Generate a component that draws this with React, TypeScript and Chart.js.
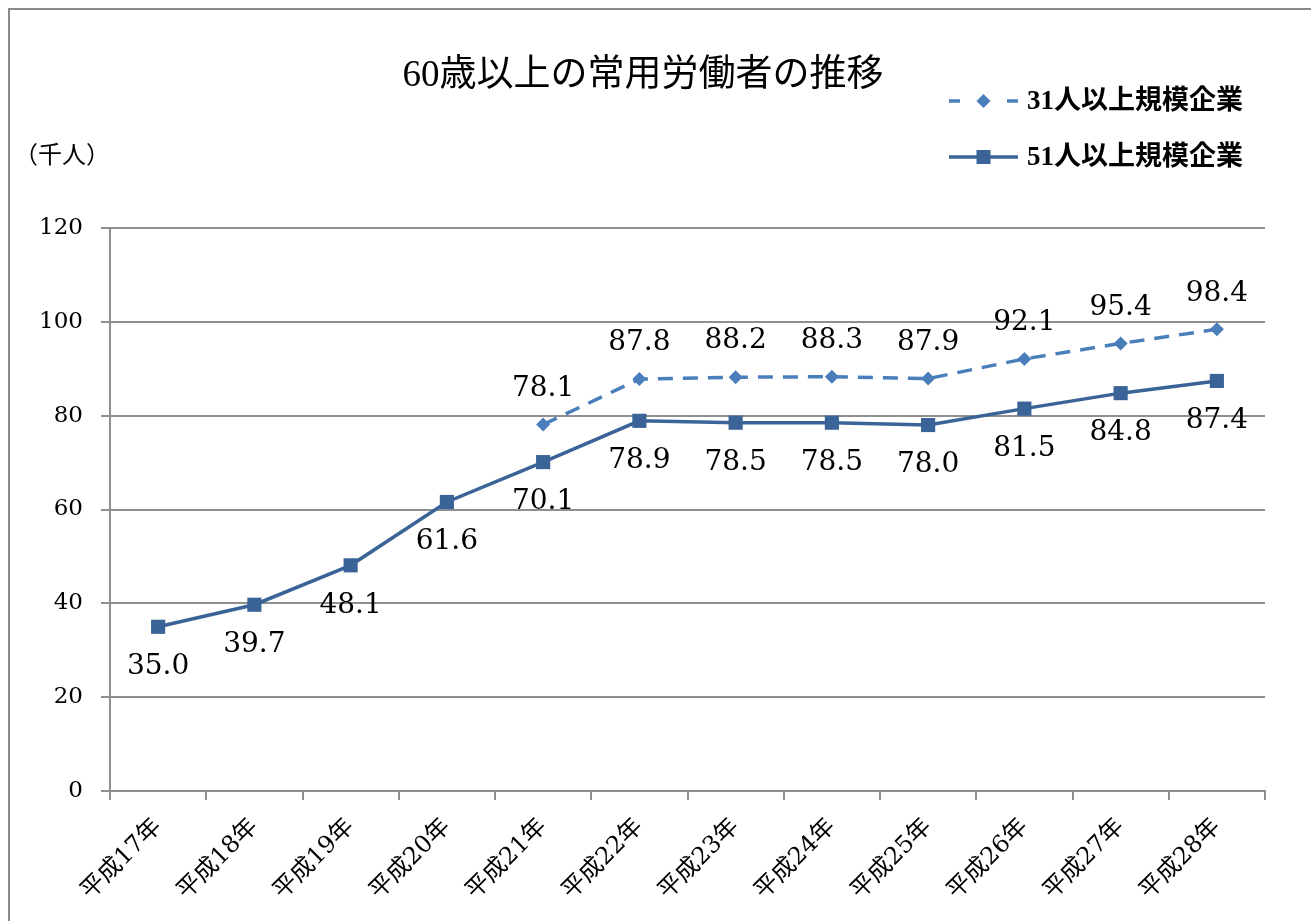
import React, { useEffect, useRef } from "react";
import { Chart, registerables } from "chart.js";

Chart.register(...registerables);

const categories = [
  "平成17年", "平成18年", "平成19年", "平成20年", "平成21年", "平成22年",
  "平成23年", "平成24年", "平成25年", "平成26年", "平成27年", "平成28年",
];
const series31 = [null, null, null, null, 78.1, 87.8, 88.2, 88.3, 87.9, 92.1, 95.4, 98.4];
const series51 = [35.0, 39.7, 48.1, 61.6, 70.1, 78.9, 78.5, 78.5, 78.0, 81.5, 84.8, 87.4];
const seriesNames = ["31人以上規模企業", "51人以上規模企業"];
const yTicks = [0, 20, 40, 60, 80, 100, 120];
const titleText = "60歳以上の常用労働者の推移";
const unitText = "（千人）";

const C31 = "#4a7ebb";
const C51 = "#3a6497";
const GRID = "#8f8f8f";
const FONT = '"Liberation Serif", "Noto Sans CJK JP", serif';
const WIDE = '"DejaVu Serif", "Noto Sans CJK JP", serif';

const overlay = {
  id: "overlay",
  beforeDraw(chart: any) {
    const ctx = chart.ctx;
    ctx.save();
    ctx.fillStyle = "#ffffff";
    ctx.fillRect(0, 0, chart.width, chart.height);
    ctx.strokeStyle = "#8a8a8a";
    ctx.lineWidth = 2;
    ctx.strokeRect(9, 9, chart.width + 20, chart.height + 20);
    ctx.restore();
  },
  afterDatasetsDraw(chart: any) {
    const ctx = chart.ctx;
    ctx.save();
    // data labels
    ctx.fillStyle = "#000";
    ctx.font = `28px ${WIDE}`;
    ctx.textAlign = "center";
    ctx.textBaseline = "middle";
    chart.data.datasets.forEach((ds: any, di: number) => {
      const meta = chart.getDatasetMeta(di);
      meta.data.forEach((pt: any, i: number) => {
        const v = ds.data[i];
        if (v === null || v === undefined) return;
        const off = di === 0 ? -36 : 40;
        ctx.fillText(Number(v).toFixed(1), pt.x, pt.y + off);
      });
    });
    // title
    ctx.font = `37px ${FONT}`;
    ctx.textAlign = "center";
    ctx.fillText(titleText, 643, 76);
    // unit
    ctx.font = `24px ${FONT}`;
    ctx.textAlign = "left";
    ctx.fillText(unitText, 14, 157);
    // legend
    const rows = [
      { y: 101, color: C31, dash: [11, 9], marker: "diamond" },
      { y: 157, color: C51, dash: [], marker: "square" },
    ];
    rows.forEach((r, i) => {
      ctx.strokeStyle = r.color;
      ctx.lineWidth = 3.5;
      ctx.setLineDash(r.dash);
      ctx.beginPath();
      if (r.dash.length) {
        ctx.moveTo(949, r.y);
        ctx.lineTo(960, r.y);
        ctx.moveTo(1007, r.y);
        ctx.lineTo(1018, r.y);
      } else {
        ctx.moveTo(949, r.y);
        ctx.lineTo(1018, r.y);
      }
      ctx.stroke();
      ctx.setLineDash([]);
      ctx.fillStyle = r.color;
      const cx = 983.5;
      if (r.marker === "diamond") {
        ctx.beginPath();
        ctx.moveTo(cx, r.y - 7);
        ctx.lineTo(cx + 7, r.y);
        ctx.lineTo(cx, r.y + 7);
        ctx.lineTo(cx - 7, r.y);
        ctx.closePath();
        ctx.fill();
      } else {
        ctx.fillRect(cx - 7, r.y - 7, 14, 14);
      }
      ctx.fillStyle = "#000";
      ctx.font = `bold 27px ${FONT}`;
      ctx.textAlign = "left";
      ctx.textBaseline = "middle";
      ctx.fillText(seriesNames[i], 1027, r.y + 1);
    });
    ctx.restore();
  },
};

export default function App() {
  const ref = useRef<HTMLCanvasElement | null>(null);
  useEffect(() => {
    if (!ref.current) return;
    const chart = new Chart(ref.current, {
      type: "line",
      data: {
        labels: categories,
        datasets: [
          {
            label: seriesNames[0],
            data: series31,
            borderColor: C31,
            backgroundColor: C31,
            borderWidth: 3.5,
            borderDash: [15, 10],
            pointStyle: "rectRot",
            pointRadius: 7,
            pointBorderWidth: 0,
            spanGaps: false,
            tension: 0,
          },
          {
            label: seriesNames[1],
            data: series51,
            borderColor: C51,
            backgroundColor: C51,
            borderWidth: 3.5,
            pointStyle: "rect",
            pointRadius: 10,
            pointBorderWidth: 0,
            tension: 0,
          },
        ],
      },
      options: {
        animation: false,
        responsive: false,
        maintainAspectRatio: false,
        layout: { padding: { top: 228, right: 46, left: 0, bottom: 0 } },
        plugins: {
          legend: { display: false },
          title: { display: false },
          tooltip: { enabled: false },
        },
        scales: {
          x: {
            type: "category",
            offset: true,
            afterFit: (s: any) => { s.height = 130; },
            grid: {
              offset: true,
              drawOnChartArea: false,
              drawTicks: true,
              tickLength: 9,
              color: GRID,
              lineWidth: 2,
            },
            border: { display: true, color: GRID, width: 2 },
            ticks: {
              minRotation: 45,
              maxRotation: 45,
              autoSkip: false,
              padding: 13,
              color: "#000",
              font: { family: WIDE, size: 24 },
            },
          },
          y: {
            min: 0,
            max: 120,
            afterFit: (s: any) => { s.width = 110; },
            afterBuildTicks: (s: any) => { s.ticks = yTicks.map((v) => ({ value: v })); },
            grid: {
              drawOnChartArea: true,
              drawTicks: true,
              tickLength: 9,
              color: GRID,
              lineWidth: 2,
            },
            border: { display: true, color: GRID, width: 2 },
            ticks: {
              padding: 18,
              color: "#000",
              font: { family: WIDE, size: 23 },
            },
          },
        },
      },
      plugins: [overlay],
    });
    return () => chart.destroy();
  }, []);
  return (
    <div style={{ position: "absolute", left: 0, top: 0, width: 1311, height: 921 }}>
      <canvas ref={ref} width={1311} height={921} style={{ width: 1311, height: 921 }} />
    </div>
  );
}
